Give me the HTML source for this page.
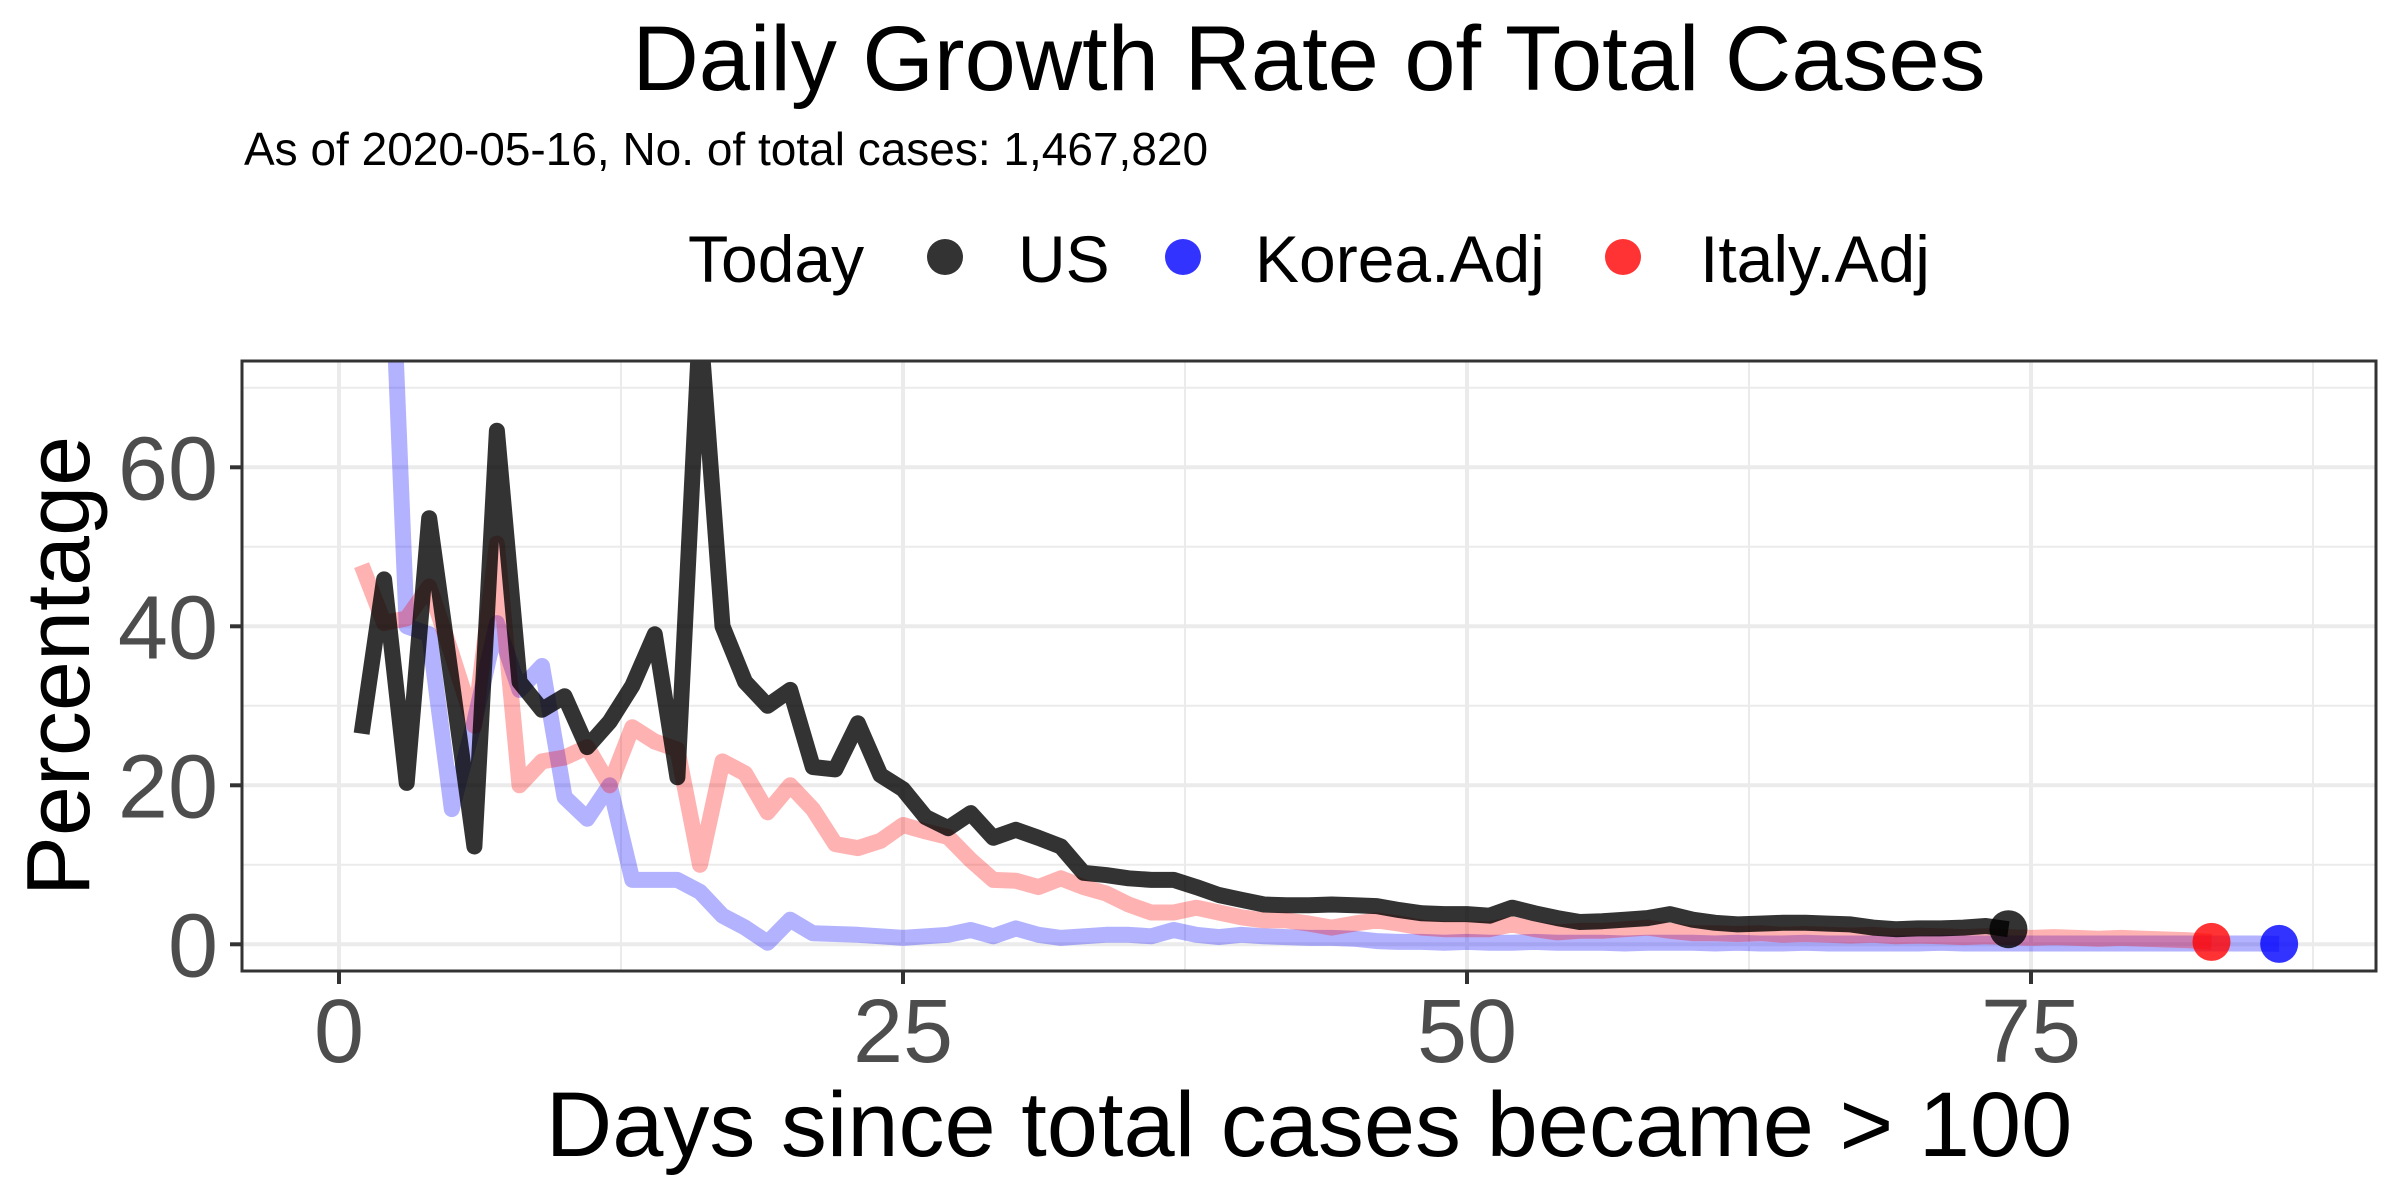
<!DOCTYPE html>
<html><head><meta charset="utf-8"><style>
html,body{margin:0;padding:0;background:#fff;}
svg{display:block;font-family:"Liberation Sans",Arial,sans-serif;}
</style></head><body>
<svg id="chart" width="2400" height="1200" viewBox="0 0 2400 1200" xmlns="http://www.w3.org/2000/svg">
<defs><clipPath id="pclip"><rect x="242" y="361" width="2134" height="610"/></clipPath></defs>
<rect width="2400" height="1200" fill="#fff"/>
<text x="1309" y="90" font-size="92" text-anchor="middle" fill="#000">Daily Growth Rate of Total Cases</text>
<text x="244" y="165" font-size="46" fill="#000">As of 2020-05-16, No. of total cases: 1,467,820</text>
<g>
<text x="688" y="282" font-size="66">Today</text>
<circle cx="945" cy="257" r="18" fill="#000" fill-opacity="0.8"/>
<text x="1018" y="282" font-size="66">US</text>
<circle cx="1183" cy="257" r="18" fill="#0000ff" fill-opacity="0.8"/>
<text x="1255" y="282" font-size="66">Korea.Adj</text>
<circle cx="1623" cy="257" r="18" fill="#ff0000" fill-opacity="0.8"/>
<text x="1700" y="282" font-size="66">Italy.Adj</text>
</g>
<g id="grid"></g>
<g id="series" clip-path="url(#pclip)"></g>
<rect x="242" y="361" width="2134" height="610" fill="none" stroke="#333" stroke-width="3"/>
<g id="axes"></g>
<text x="1309" y="1156" font-size="92" text-anchor="middle" fill="#000">Days since total cases became &gt; 100</text>
<text transform="translate(89,666) rotate(-90)" font-size="90" text-anchor="middle" fill="#000">Percentage</text>
</svg>
<script>
const xTicks = [0, 25, 50, 75];
const xMinor = [12.5, 37.5, 62.5, 87.5];
const yTicks = [0, 20, 40, 60];
const yMinor = [10, 30, 50, 70];
const usStart = 1;
const usValues = [26.5,45.9,20.3,53.6,33,12.3,64.6,33,29.5,31.2,24.8,28,32.5,39,21,78,40,33,30,32,22.3,22,27.8,21.3,19.5,16,14.6,16.5,13.4,14.4,13.4,12.3,9,8.7,8.3,8.1,8.1,7.2,6.2,5.6,5,4.9,4.9,5,4.9,4.8,4.3,3.9,3.8,3.8,3.6,4.6,3.9,3.3,2.8,2.9,3.1,3.3,3.8,3.1,2.7,2.5,2.6,2.7,2.7,2.6,2.5,2.1,1.9,2.0,2.0,2.1,2.3,1.9];
const italyStart = 1;
const italyValues = [47.7,40.4,41,45,36.5,27.5,50.4,20,23,23.5,24.8,20,27.3,25.5,24.5,10,23,21.5,16.6,20,17,12.6,12.1,13,15,14.2,13.5,10.6,8.1,8,7.2,8.3,7.2,6.4,5,4,4,4.6,4,3.4,3,3,2.6,2.1,2.6,3,2.6,2.1,1.9,1.9,1.9,2.5,1.9,1.5,1.7,1.7,1.9,2.1,1.7,1.4,1.4,1.3,1.4,1.2,1.3,1.2,1.1,1.2,1.0,1.1,1.0,0.9,1.0,0.9,0.8,0.9,0.8,0.7,0.8,0.7,0.6,0.5,0.3];
const koreaStart = 2;
const koreaValues = [110,40,39,17,28,40.4,32,35,18.5,15.8,20,8.1,8.1,8.1,6.6,3.6,2.1,0.2,3.1,1.4,1.3,1.2,1.0,0.8,1.0,1.2,1.8,1.0,2.0,1.2,0.8,1.0,1.2,1.2,1.0,1.8,1.2,0.9,1.2,1.0,0.9,0.8,0.8,0.7,0.4,0.3,0.3,0.2,0.3,0.2,0.2,0.3,0.2,0.2,0.2,0.1,0.2,0.2,0.2,0.1,0.2,0.1,0.1,0.2,0.1,0.1,0.1,0.1,0.1,0.2,0.1,0.1,0.1,0.1,0.1,0.1,0.1,0.1,0.1,0.1,0.1,0.1,0.1,0.1,0.05];

const NS = "http://www.w3.org/2000/svg";
function X(v){ return 339 + v * 22.56; }
function Y(v){ return 944.3 - v * 7.95; }
function mk(tag, attrs, parent){
  const e = document.createElementNS(NS, tag);
  for (const k in attrs) e.setAttribute(k, attrs[k]);
  parent.appendChild(e); return e;
}
const grid = document.getElementById('grid');
const axes = document.getElementById('axes');
const series = document.getElementById('series');

xMinor.forEach(v => {
  const l = mk('line', {x1:X(v), x2:X(v), y1:361, y2:971, stroke:'#ebebeb', 'stroke-width':2}, grid);
  
  
});
yMinor.forEach(v => {
  const l = mk('line', {x1:242, x2:2376, y1:Y(v), y2:Y(v), stroke:'#ebebeb', 'stroke-width':2}, grid);
  
  
});
xTicks.forEach(v => {
  const l = mk('line', {x1:X(v), x2:X(v), y1:361, y2:971, stroke:'#ebebeb', 'stroke-width':4}, grid);
  
  
  const t = mk('line', {x1:X(v), x2:X(v), y1:971, y2:984, stroke:'#333', 'stroke-width':4}, axes);
  
  
  const tx = mk('text', {x:X(v), y:1062, 'font-size':90, 'text-anchor':'middle', fill:'#4d4d4d'}, axes);
  tx.textContent = String(v);
  
  
});
yTicks.forEach(v => {
  const l = mk('line', {x1:242, x2:2376, y1:Y(v), y2:Y(v), stroke:'#ebebeb', 'stroke-width':4}, grid);
  
  
  const t = mk('line', {x1:230, x2:242, y1:Y(v), y2:Y(v), stroke:'#333', 'stroke-width':4}, axes);
  
  
  const tx = mk('text', {x:218, y:Y(v)+32, 'font-size':90, 'text-anchor':'end', fill:'#4d4d4d'}, axes);
  tx.textContent = String(v);
  
  
});

function drawSeries(start, vals, color, opacity, name){
  const pts = vals.map((v,i) => X(start+i).toFixed(1) + ',' + Y(v).toFixed(1)).join(' ');
  const p = mk('polyline', {points:pts, fill:'none', stroke:color, 'stroke-opacity':opacity, 'stroke-width':16, 'stroke-linejoin':'round', 'stroke-linecap':'butt'}, series);
  
  
}
drawSeries(koreaStart, koreaValues, '#0000ff', 0.3, 'korea');
drawSeries(italyStart, italyValues, '#ff0000', 0.3, 'italy');
drawSeries(usStart, usValues, '#000000', 0.8, 'us');

function drawToday(start, vals, color, name){
  const i = vals.length - 1;
  const c = mk('circle', {cx:X(start+i), cy:Y(vals[i]), r:19, fill:color, 'fill-opacity':0.8}, series);
  
  
}
drawToday(usStart, usValues, '#000000', 'us');
drawToday(italyStart, italyValues, '#ff0000', 'italy');
drawToday(koreaStart, koreaValues, '#0000ff', 'korea');
</script>
</body></html>
